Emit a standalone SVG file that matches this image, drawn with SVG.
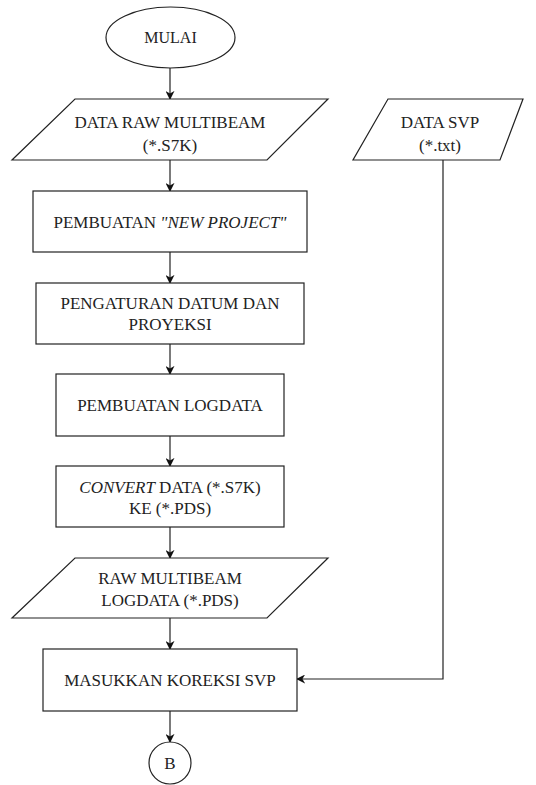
<svg xmlns="http://www.w3.org/2000/svg" width="536" height="785" viewBox="0 0 536 785">
<style>
.s{fill:#fff;stroke:#222;stroke-width:1.2}
.t{font-family:'Liberation Serif','DejaVu Serif',serif;font-size:17px;fill:#222;text-anchor:middle}
.c{fill:none;stroke:#222;stroke-width:1.2}
</style>
<defs>
<marker id="a" viewBox="0 0 10 10" refX="9" refY="5" markerWidth="9" markerHeight="9" markerUnits="userSpaceOnUse" orient="auto">
<path d="M0,0 L10,5 L0,10 L3,5 Z" fill="#111"/>
</marker>
</defs>
<rect width="536" height="785" fill="#fff"/>
<g id="connectors">
<line class="c" x1="170" y1="68" x2="170" y2="99" marker-end="url(#a)"/>
<line class="c" x1="170" y1="160" x2="170" y2="191" marker-end="url(#a)"/>
<line class="c" x1="170" y1="252" x2="170" y2="283" marker-end="url(#a)"/>
<line class="c" x1="170" y1="344" x2="170" y2="374" marker-end="url(#a)"/>
<line class="c" x1="170" y1="436" x2="170" y2="466" marker-end="url(#a)"/>
<line class="c" x1="170" y1="527" x2="170" y2="558" marker-end="url(#a)"/>
<line class="c" x1="170" y1="618" x2="170" y2="649" marker-end="url(#a)"/>
<line class="c" x1="170" y1="711" x2="170" y2="742" marker-end="url(#a)"/>
<polyline class="c" points="443,160 443,679 297,679" marker-end="url(#a)"/>
</g>
<g id="mulai">
<ellipse class="s" cx="170.5" cy="37.5" rx="64.5" ry="30.5"/>
<text class="t" x="170.5" y="43" style="font-size:16px">MULAI</text>
</g>
<g id="data-raw">
<polygon class="s" points="75,99 328,99 267,160 12,160"/>
<text class="t" x="170" y="128">DATA RAW MULTIBEAM</text>
<text class="t" x="170" y="151">(*.S7K)</text>
</g>
<g id="data-svp">
<polygon class="s" points="388,99 523,99 500,160 353,160"/>
<text class="t" x="440" y="128">DATA SVP</text>
<text class="t" x="440" y="151">(*.txt)</text>
</g>
<g id="new-project">
<rect class="s" x="33" y="191" width="274" height="61"/>
<text class="t" x="170" y="228">PEMBUATAN <tspan font-style="italic">"NEW PROJECT"</tspan></text>
</g>
<g id="datum">
<rect class="s" x="36" y="283" width="268" height="61"/>
<text class="t" x="170" y="309">PENGATURAN DATUM DAN</text>
<text class="t" x="170" y="330">PROYEKSI</text>
</g>
<g id="logdata">
<rect class="s" x="56" y="374" width="228" height="62"/>
<text class="t" x="170" y="411">PEMBUATAN LOGDATA</text>
</g>
<g id="convert">
<rect class="s" x="56" y="466" width="228" height="61"/>
<text class="t" x="170" y="493"><tspan font-style="italic">CONVERT</tspan> DATA (*.S7K)</text>
<text class="t" x="170" y="514">KE (*.PDS)</text>
</g>
<g id="raw-logdata">
<polygon class="s" points="75,558 328,558 267,618 12,618"/>
<text class="t" x="170" y="584">RAW MULTIBEAM</text>
<text class="t" x="170" y="606">LOGDATA (*.PDS)</text>
</g>
<g id="koreksi">
<rect class="s" x="43" y="649" width="254" height="62"/>
<text class="t" x="170" y="686">MASUKKAN KOREKSI SVP</text>
</g>
<g id="b">
<circle class="s" cx="170" cy="763" r="21"/>
<text class="t" x="170" y="769">B</text>
</g>
</svg>
